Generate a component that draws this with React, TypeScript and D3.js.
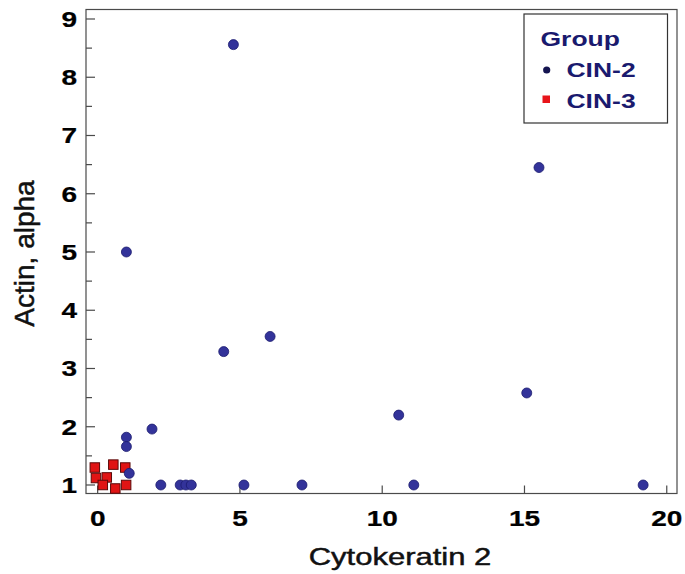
import React, { useEffect, useRef } from "react";
import * as d3 from "d3";

// Actin, alpha vs Cytokeratin 2, by CIN group

const cin2X = [4.77, 15.51, 1.01, 6.06, 4.43, 15.08, 10.58, 1.91, 1.01, 1.01, 1.11, 2.22, 2.9, 3.1, 3.29, 5.14, 7.18, 11.11, 19.17];
const cin2Y = [8.56, 6.45, 5.0, 3.55, 3.29, 2.58, 2.2, 1.96, 1.82, 1.66, 1.2, 1, 1, 1, 1, 1, 1, 1, 1];

const cin3X = [-0.1, -0.06, 0.32, 0.18, 0.55, 0.97, 1.0, 0.62];
const cin3Y = [1.3, 1.12, 1.13, 1.0, 1.35, 1.3, 1.0, 0.94];

const xTicks = [0, 5, 10, 15, 20];
const yTicks = [1, 2, 3, 4, 5, 6, 7, 8, 9];
const yMinorTicks = [1.5, 2.5, 3.5, 4.5, 5.5, 6.5, 7.5, 8.5];

const groups = ["CIN-2", "CIN-3"];

const FONT = "'Liberation Sans', Arial, sans-serif";

const App = () => {
    const svgRef = useRef<SVGSVGElement>(null);

    useEffect(() => {
        const width = 685;
        const height = 574;
        const frame = { left: 86, right: 677, top: 9.5, bottom: 493.5 };

        const svg = d3.select(svgRef.current);
        svg.selectAll("*").remove();

        const x = d3.scaleLinear().domain([-0.41, 20.36]).range([frame.left, frame.right]);
        const y = d3.scaleLinear().domain([0.854, 9.163]).range([frame.bottom, frame.top]);

        svg.append("rect")
            .attr("width", width).attr("height", height).attr("fill", "#fff");

        // frame
        svg.append("rect")
            .attr("x", frame.left).attr("y", frame.top)
            .attr("width", frame.right - frame.left).attr("height", frame.bottom - frame.top)
            .attr("fill", "none").attr("stroke", "#4a4a4a").attr("stroke-width", 1.2);

        // y ticks (inside)
        svg.append("g").selectAll("line").data(yTicks).join("line")
            .attr("x1", frame.left).attr("x2", frame.left + 9)
            .attr("y1", d => y(d)).attr("y2", d => y(d))
            .attr("stroke", "#4a4a4a").attr("stroke-width", 1.2);
        svg.append("g").selectAll("line").data(yMinorTicks).join("line")
            .attr("x1", frame.left).attr("x2", frame.left + 6)
            .attr("y1", d => y(d)).attr("y2", d => y(d))
            .attr("stroke", "#4a4a4a").attr("stroke-width", 1.2);

        // x ticks (inside)
        svg.append("g").selectAll("line").data(xTicks).join("line")
            .attr("x1", d => x(d)).attr("x2", d => x(d))
            .attr("y1", frame.bottom).attr("y2", frame.bottom - 8)
            .attr("stroke", "#4a4a4a").attr("stroke-width", 1.2);

        // tick labels (text squeezed vertically like the source image)
        svg.append("g").selectAll("text").data(yTicks).join("text")
            .attr("transform", d => `translate(77,${y(d) + 8}) scale(1,0.8)`)
            .attr("text-anchor", "end")
            .attr("font-family", FONT).attr("font-weight", "bold").attr("font-size", 28)
            .attr("fill", "#000").attr("stroke", "#000").attr("stroke-width", 0.3)
            .text(d => d);

        svg.append("g").selectAll("text").data(xTicks).join("text")
            .attr("transform", d => `translate(${x(d)},526) scale(1,0.8)`)
            .attr("text-anchor", "middle")
            .attr("font-family", FONT).attr("font-weight", "bold").attr("font-size", 28)
            .attr("fill", "#000").attr("stroke", "#000").attr("stroke-width", 0.3)
            .text(d => d);

        // axis titles
        svg.append("text")
            .attr("transform", "translate(400,564.5) scale(1,0.8)")
            .attr("text-anchor", "middle")
            .attr("font-family", FONT).attr("font-size", 31)
            .attr("fill", "#111").attr("stroke", "#111").attr("stroke-width", 0.6)
            .text("Cytokeratin 2");

        svg.append("text")
            .attr("transform", "translate(33.5,253.5) rotate(-90)")
            .attr("text-anchor", "middle")
            .attr("font-family", FONT).attr("font-size", 28)
            .attr("fill", "#111").attr("stroke", "#111").attr("stroke-width", 0.5)
            .text("Actin, alpha");

        // CIN-3 squares
        const sq = 9.5;
        svg.append("g").selectAll("rect").data(cin3X).join("rect")
            .attr("x", (d) => x(d) - sq / 2)
            .attr("y", (d, i) => y(cin3Y[i]) - sq / 2)
            .attr("width", sq).attr("height", sq)
            .attr("fill", "#e01414").attr("stroke", "#5a0a0a").attr("stroke-width", 1);

        // CIN-2 circles
        svg.append("g").selectAll("circle").data(cin2X).join("circle")
            .attr("cx", d => x(d))
            .attr("cy", (d, i) => y(cin2Y[i]))
            .attr("r", 5)
            .attr("fill", "#33339a").attr("stroke", "#1c1c6e").attr("stroke-width", 0.8);

        // legend
        const legend = svg.append("g");
        legend.append("rect")
            .attr("x", 524).attr("y", 14).attr("width", 143.5).attr("height", 109)
            .attr("fill", "#fff").attr("stroke", "#333").attr("stroke-width", 1.2);
        legend.append("text")
            .attr("transform", "translate(540.5,45.5) scale(1,0.77)")
            .attr("font-family", FONT).attr("font-weight", "bold").attr("font-size", 26.5)
            .attr("fill", "#1a1a6e")
            .text("Group");
        legend.selectAll("text.item").data(groups).join("text")
            .attr("class", "item")
            .attr("transform", (d, i) => `translate(566.5,${76.8 + i * 31}) scale(1,0.77)`)
            .attr("font-family", FONT).attr("font-weight", "bold").attr("font-size", 26.5)
            .attr("fill", "#1a1a6e")
            .text(d => d);
        legend.append("circle")
            .attr("cx", 546.7).attr("cy", 70).attr("r", 3.6).attr("fill", "#141450");
        legend.append("rect")
            .attr("x", 542.5).attr("y", 95.5).attr("width", 7.5).attr("height", 7.5).attr("fill", "#e8141a");
    }, []);

    return (
        <svg ref={svgRef} width={685} height={574}
            style={{ position: "absolute", left: 0, top: 0 }}></svg>
    );
};

export default App;
